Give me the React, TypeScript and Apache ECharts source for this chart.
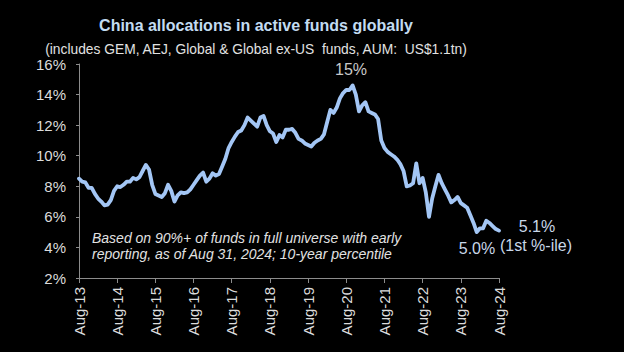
import React, { useEffect, useRef } from "react";
import * as echarts from "echarts";

const MONTHS = ["Jan", "Feb", "Mar", "Apr", "May", "Jun", "Jul", "Aug", "Sep", "Oct", "Nov", "Dec"];

// Monthly, Aug-2013 .. Aug-2024 (China allocation, % of AUM)
const values: number[] = [
  8.5, 8.3, 8.25, 7.9, 7.9, 7.5, 7.2, 7.0, 6.75, 6.8, 7.1, 7.7,
  8.0, 7.95, 8.1, 8.3, 8.3, 8.55, 8.45, 8.6, 9.0, 9.4, 9.1, 8.1,
  7.5, 7.4, 7.3, 7.55, 8.1, 7.7, 7.0, 7.4, 7.6, 7.55, 7.6, 7.8,
  8.1, 8.4, 8.7, 8.9, 8.3, 8.5, 8.85, 8.7, 8.8, 9.3, 9.8, 10.5,
  10.9, 11.25, 11.55, 11.65, 12.0, 12.5, 12.3, 12.1, 11.9, 12.5, 12.6, 12.0,
  11.6, 11.45, 10.9, 11.35, 11.2, 11.7, 11.7, 11.75, 11.5, 11.1, 11.0, 10.8,
  10.7, 10.6, 10.85, 11.0, 11.1, 11.4, 12.2, 13.0, 12.8, 13.15, 13.75, 14.1,
  14.3, 14.3, 14.6, 14.0, 12.9, 13.3, 13.5, 12.9, 12.8, 12.7, 12.4, 11.0,
  10.5, 10.25, 10.1, 9.95, 9.75, 9.45, 9.0, 8.0, 8.05, 8.2, 9.5, 8.2,
  8.55, 7.6, 6.0, 7.2, 8.0, 8.75, 8.2, 7.8, 7.4, 6.95, 7.1, 7.3,
  6.9, 6.75, 6.6, 6.1, 5.6, 5.0, 5.25, 5.25, 5.75, 5.6, 5.4, 5.2,
  5.1,
];

const categories: string[] = values.map((_, i) => {
  const m = 7 + i; // start Aug-2013
  const month = MONTHS[m % 12];
  const year = 13 + Math.floor(m / 12);
  return `${month}-${year}`;
});

const yTicks = [2, 4, 6, 8, 10, 12, 14, 16];

const titleText = "China allocations in active funds globally";
const subtitleText = "(includes GEM, AEJ, Global & Global ex-US  funds, AUM:  US$1.1tn)";
const noteLines = [
  "Based on 90%+ of funds in full universe with early",
  "reporting, as of Aug 31, 2024; 10-year percentile",
];

export default function App() {
  const ref = useRef<HTMLDivElement>(null);

  useEffect(() => {
    document.body.style.margin = "0";
    document.body.style.background = "#000";
    const chart = echarts.init(ref.current!, null, { renderer: "svg" });
    const font = "'Liberation Sans', Arial, sans-serif";

    chart.setOption({
      animation: false,
      backgroundColor: "#000000",
      textStyle: { fontFamily: font },
      grid: { left: 79, right: 125, top: 64, bottom: 74 },
      xAxis: {
        type: "category",
        data: categories,
        boundaryGap: false,
        axisLine: { lineStyle: { color: "#8c8c8c", width: 1 } },
        axisTick: {
          show: true,
          length: 5,
          interval: (i: number) => i % 12 === 0,
          lineStyle: { color: "#8c8c8c" },
        },
        axisLabel: {
          interval: (i: number) => i % 12 === 0,
          rotate: 90,
          color: "#dcdcdc",
          fontSize: 15,
          fontFamily: font,
          margin: 9,
        },
        splitLine: { show: false },
      },
      yAxis: {
        type: "value",
        min: yTicks[0],
        max: yTicks[yTicks.length - 1],
        interval: 2,
        axisLine: { show: true, lineStyle: { color: "#8c8c8c", width: 1 } },
        axisTick: { show: true, length: 3, lineStyle: { color: "#8c8c8c" } },
        axisLabel: {
          formatter: "{value}%",
          color: "#dcdcdc",
          fontSize: 15,
          fontFamily: font,
          margin: 13,
        },
        splitLine: { show: false },
      },
      series: [
        {
          type: "line",
          data: values,
          showSymbol: false,
          smooth: false,
          lineStyle: { color: "#a3c6f5", width: 3.8, join: "round", cap: "round" },
        },
      ],
      graphic: [
        {
          type: "text",
          x: 256,
          y: 25,
          style: {
            text: titleText,
            fill: "#c3dcf2",
            font: `bold 16px ${font}`,
            align: "center",
            verticalAlign: "middle",
          },
        },
        {
          type: "text",
          x: 256,
          y: 49,
          scaleX: 0.92,
          style: {
            text: subtitleText,
            fill: "#e2e2e2",
            font: `15px ${font}`,
            align: "center",
            verticalAlign: "middle",
          },
        },
        {
          type: "text",
          x: 351,
          y: 69,
          style: {
            text: "15%",
            fill: "#c8c8c8",
            font: `16px ${font}`,
            align: "center",
            verticalAlign: "middle",
          },
        },
        {
          type: "text",
          x: 537,
          y: 226,
          style: {
            text: "5.1%",
            fill: "#c9d7e8",
            font: `16px ${font}`,
            align: "center",
            verticalAlign: "middle",
          },
        },
        {
          type: "text",
          x: 536,
          y: 245,
          style: {
            text: "(1st %-ile)",
            fill: "#c9d7e8",
            font: `16px ${font}`,
            align: "center",
            verticalAlign: "middle",
          },
        },
        {
          type: "text",
          x: 477,
          y: 248,
          style: {
            text: "5.0%",
            fill: "#c9d7e8",
            font: `16px ${font}`,
            align: "center",
            verticalAlign: "middle",
          },
        },
        {
          type: "text",
          x: 92,
          y: 238,
          style: {
            text: noteLines[0],
            fill: "#e2e2e2",
            font: `italic 14px ${font}`,
            align: "left",
            verticalAlign: "middle",
          },
        },
        {
          type: "text",
          x: 92,
          y: 254,
          style: {
            text: noteLines[1],
            fill: "#e2e2e2",
            font: `italic 14px ${font}`,
            align: "left",
            verticalAlign: "middle",
          },
        },
      ],
    });

    return () => chart.dispose();
  }, []);

  return <div ref={ref} style={{ width: 624, height: 352, background: "#000" }} />;
}
